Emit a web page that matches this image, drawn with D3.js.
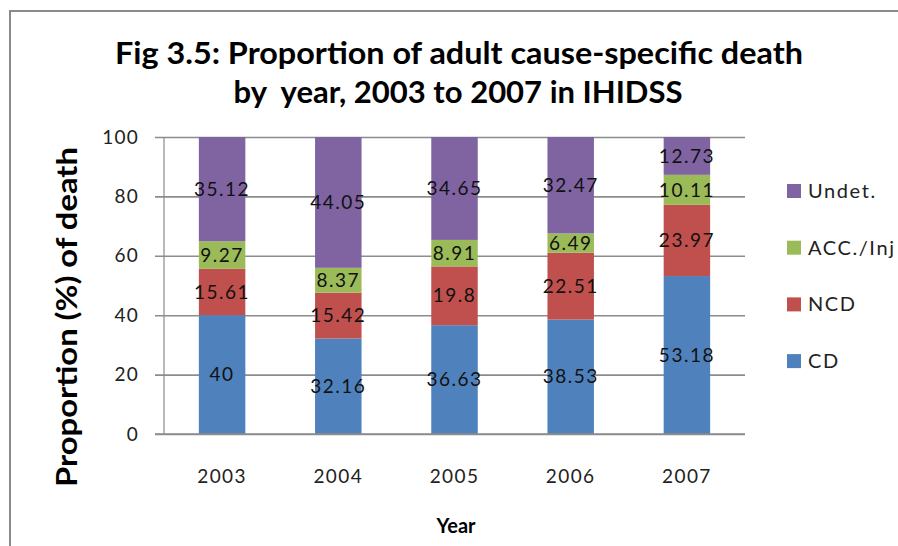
<!DOCTYPE html>
<html>
<head>
<meta charset="utf-8">
<script src="https://cdn.jsdelivr.net/npm/d3@7/dist/d3.min.js"></script>
<style>
  html, body { margin: 0; padding: 0; background: #fff; }
  svg { display: block; font-family: Lato, "Open Sans", sans-serif; }
</style>
</head>
<body>
<svg id="chart" width="898" height="546"></svg>
<script>
// Years on the x axis
const years = ["2003", "2004", "2005", "2006", "2007"];
// Series names, bottom to top of each stack
const seriesNames = ["CD", "NCD", "ACC./Inj", "Undet."];
// Percent of adult deaths per cause, one value per year
const cdValues = [40, 32.16, 36.63, 38.53, 53.18];
const ncdValues = [15.61, 15.42, 19.8, 22.51, 23.97];
const accValues = [9.27, 8.37, 8.91, 6.49, 10.11];
const undetValues = [35.12, 44.05, 34.65, 32.47, 12.73];
// Y axis ticks
const yTicks = [0, 20, 40, 60, 80, 100];

const colors = ["#4F81BD", "#C0504D", "#9BBB59", "#8064A2"];
const seriesValues = [cdValues, ncdValues, accValues, undetValues];

const rows = years.map((y, i) => {
  const r = { year: y };
  seriesNames.forEach((s, k) => { r[s] = seriesValues[k][i]; });
  return r;
});

const svg = d3.select("#chart");
const plot = { left: 164, right: 745, top: 137, bottom: 434 };

const x = d3.scaleBand().domain(years).range([plot.left, plot.right])
  .paddingInner(0.6).paddingOuter(0.3);
const y = d3.scaleLinear().domain([0, 100]).range([plot.bottom, plot.top]);
const color = d3.scaleOrdinal().domain(seriesNames).range(colors);

// Outer frame (left and top edges)
svg.append("path")
  .attr("d", "M10,546 L10,11 L898,11")
  .attr("fill", "none").attr("stroke", "#8a8a8a").attr("stroke-width", 2);

// Title
const title = svg.append("text").attr("text-anchor", "middle")
  .attr("font-weight", "bold").attr("font-size", 30).attr("fill", "#000")
  .style("white-space", "pre");
title.append("tspan").attr("x", 459).attr("y", 64)
  .attr("textLength", 688).attr("lengthAdjust", "spacingAndGlyphs")
  .text("Fig 3.5: Proportion of adult cause-specific death");
title.append("tspan").attr("x", 458).attr("y", 103)
  .attr("textLength", 449).attr("lengthAdjust", "spacingAndGlyphs")
  .text("by  year, 2003 to 2007 in IHIDSS");

// Y axis with gridlines
const yAxis = d3.axisLeft(y).tickValues(yTicks)
  .tickSize(-(plot.right - plot.left)).tickPadding(25).tickFormat(d3.format("d"));
const gy = svg.append("g").attr("transform", `translate(${plot.left},0)`).call(yAxis);
gy.select(".domain").remove();
gy.selectAll(".tick line").attr("stroke", "#8c8c8c").attr("stroke-width", 1.6)
  .attr("x1", -9);
gy.selectAll(".tick text").attr("font-size", 19).attr("fill", "#222")
  .attr("letter-spacing", 1.2).attr("font-family", "Lato, sans-serif");

// Vertical axis line
svg.append("line")
  .attr("x1", plot.left).attr("x2", plot.left)
  .attr("y1", y(100)).attr("y2", y(0))
  .attr("stroke", "#8c8c8c").attr("stroke-width", 1.2);

// Stacked bars
const stack = d3.stack().keys(seriesNames);
const layers = stack(rows);

const layerG = svg.append("g").selectAll("g").data(layers).join("g")
  .attr("fill", d => color(d.key));
layerG.selectAll("rect").data(d => d).join("rect")
  .attr("x", d => x(d.data.year))
  .attr("width", x.bandwidth())
  .attr("y", d => y(d[1]))
  .attr("height", d => y(d[0]) - y(d[1]));

// Redraw baseline over bars
svg.append("line")
  .attr("x1", plot.left - 9).attr("x2", plot.right)
  .attr("y1", y(0)).attr("y2", y(0))
  .attr("stroke", "#8c8c8c").attr("stroke-width", 1.6);

// Value labels centred in each segment
const labelG = svg.append("g");
layers.forEach(layer => {
  layer.forEach(d => {
    labelG.append("text")
      .attr("x", x(d.data.year) + x.bandwidth() / 2)
      .attr("y", y((d[0] + d[1]) / 2))
      .attr("dy", "0.35em")
      .attr("text-anchor", "middle")
      .attr("font-size", 19).attr("letter-spacing", 1.5)
      .attr("fill", "#111")
      .text(String(d.data[layer.key]));
  });
});

// X tick labels
svg.append("g").selectAll("text").data(years).join("text")
  .attr("x", d => x(d) + x.bandwidth() / 2)
  .attr("y", 483)
  .attr("text-anchor", "middle")
  .attr("font-size", 19).attr("letter-spacing", 1.4)
  .attr("fill", "#222")
  .text(d => d);

// X axis title
svg.append("text").attr("x", 456).attr("y", 533)
  .attr("text-anchor", "middle").attr("font-weight", "bold")
  .attr("font-size", 20).attr("fill", "#000").text("Year");

// Y axis title
svg.append("text")
  .attr("transform", "translate(77,317) rotate(-90)")
  .attr("text-anchor", "middle").attr("font-weight", "bold")
  .attr("font-size", 29).attr("fill", "#000")
  .attr("textLength", 340).attr("lengthAdjust", "spacingAndGlyphs")
  .text("Proportion (%) of death");

// Legend, top entry is the top of the stack
const legendOrder = seriesNames.slice().reverse();
const legend = svg.append("g").selectAll("g").data(legendOrder).join("g")
  .attr("transform", (d, i) => `translate(787,${191 + i * 56.7})`);
legend.append("rect").attr("x", 0).attr("y", -7).attr("width", 14).attr("height", 14)
  .attr("fill", d => color(d));
legend.append("text").attr("x", 21).attr("y", 0).attr("dy", "0.35em")
  .attr("font-size", 20).attr("letter-spacing", 1.6).attr("fill", "#222")
  .text(d => d);
</script>
</body>
</html>
